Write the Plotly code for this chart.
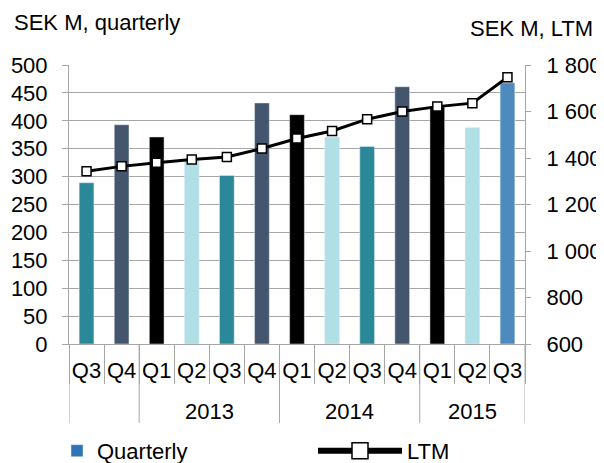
import plotly.graph_objects as go

categories = ["2012 Q3", "2012 Q4", "2013 Q1", "2013 Q2", "2013 Q3", "2013 Q4",
              "2014 Q1", "2014 Q2", "2014 Q3", "2014 Q4", "2015 Q1", "2015 Q2", "2015 Q3"]
quarter_labels = ["Q3", "Q4", "Q1", "Q2", "Q3", "Q4", "Q1", "Q2", "Q3", "Q4", "Q1", "Q2", "Q3"]
quarterly = [289, 393, 371, 330, 302, 432, 411, 371, 354, 461, 425, 388, 468]
ltm = [1343, 1364, 1380, 1394, 1404, 1441, 1484, 1516, 1567, 1600, 1621, 1636, 1747]
years = ["2013", "2014", "2015"]
year_centers = [3.5, 7.5, 11]
year_bounds = [-0.5, 1.5, 5.5, 9.5, 12.5]

C_Q3 = "#2B8899"
C_Q4 = "#44566D"
C_Q1 = "#000000"
C_Q2 = "#B0DFE6"
C_LAST = "#4F8ABF"
bar_colors = [C_Q3, C_Q4, C_Q1, C_Q2, C_Q3, C_Q4, C_Q1, C_Q2, C_Q3, C_Q4, C_Q1, C_Q2, C_LAST]

FONT = "Liberation Sans, Arial, sans-serif"
FS = 22
GRID = "#A6A6A6"

fig = go.Figure()
fig.add_trace(go.Bar(x=categories, y=quarterly, marker_color=bar_colors, width=0.42,
                     showlegend=False, name="Quarterly"))
fig.add_trace(go.Scatter(x=categories, y=ltm, yaxis="y2", name="LTM", mode="lines+markers",
                         showlegend=False,
                         line=dict(color="black", width=3),
                         marker=dict(symbol="square", size=9, color="white",
                                     line=dict(color="black", width=1.5))))
# legend entries
fig.add_trace(go.Bar(x=[None], y=[None], name="Quarterly", marker_color="#2E75B6",
                     showlegend=True, legend="legend"))
fig.add_trace(go.Scatter(x=[None], y=[None], yaxis="y2", name="LTM", mode="lines+markers",
                         showlegend=True, legend="legend2",
                         line=dict(color="black", width=6),
                         marker=dict(symbol="square", size=16, color="white",
                                     line=dict(color="black", width=1.5))))

shapes = []
for b in year_bounds:
    shapes.append(dict(type="line", xref="x", yref="paper", x0=b, x1=b, y0=0, y1=-0.283,
                       line=dict(color=GRID, width=1)))

annotations = []
for yr, c in zip(years, year_centers):
    annotations.append(dict(text=yr, x=c, xref="x", y=-0.2435, yref="paper",
                            showarrow=False, yanchor="middle",
                            font=dict(size=FS, family=FONT, color="black")))
annotations.append(dict(text="SEK M, quarterly", x=(12 - 69) / 456, xref="paper", xanchor="left",
                        y=1.151, yref="paper", yanchor="middle", showarrow=False,
                        font=dict(size=FS, family=FONT, color="black")))
annotations.append(dict(text="SEK M, LTM", x=(595 - 69) / 456, xref="paper", xanchor="right",
                        y=1.131, yref="paper", yanchor="middle", showarrow=False,
                        font=dict(size=FS, family=FONT, color="black")))

fig.update_layout(
    width=596, height=455,
    margin=dict(l=61, r=79, t=57, b=119, autoexpand=False),
    paper_bgcolor="white", plot_bgcolor="white",
    font=dict(family=FONT, size=FS, color="black"),
    separators=", ",
    barmode="overlay",
    xaxis=dict(type="category", categoryorder="array", categoryarray=categories,
               tickvals=categories, ticktext=quarter_labels, tickangle=0,
               showline=True, linecolor=GRID, linewidth=1,
               ticks="outside", tickson="boundaries", ticklen=39, tickcolor=GRID,
               ticklabelstandoff=7, showgrid=False, zeroline=False, automargin=False,
               tickfont=dict(size=FS, family=FONT, color="black"),
               range=[-0.5, 12.5]),
    yaxis=dict(range=[0, 500], dtick=50, showgrid=True, gridcolor=GRID, gridwidth=1,
               showline=True, linecolor=GRID, ticks="outside", ticklen=6, tickcolor=GRID,
               zeroline=False, ticklabelstandoff=10, automargin=False,
               tickfont=dict(size=FS, family=FONT, color="black")),
    yaxis2=dict(range=[600, 1800], dtick=200, overlaying="y", side="right",
                showgrid=False, showline=True, linecolor=GRID, ticks="outside", ticklen=5,
                tickcolor=GRID, tickformat=",d", zeroline=False, ticklabelstandoff=11,
                automargin=False,
                tickfont=dict(size=FS, family=FONT, color="black")),
    legend=dict(orientation="h", x=(57 - 69) / 456, xanchor="left", y=-0.383, yanchor="middle",
                font=dict(size=FS, family=FONT, color="black"),
                bgcolor="rgba(0,0,0,0)"),
    legend2=dict(orientation="h", x=(313 - 69) / 456, xanchor="left", y=-0.383, yanchor="middle",
                 itemwidth=84,
                 font=dict(size=FS, family=FONT, color="black"),
                 bgcolor="rgba(0,0,0,0)"),
    shapes=shapes,
    annotations=annotations,
)

fig.write_html("out.html")
